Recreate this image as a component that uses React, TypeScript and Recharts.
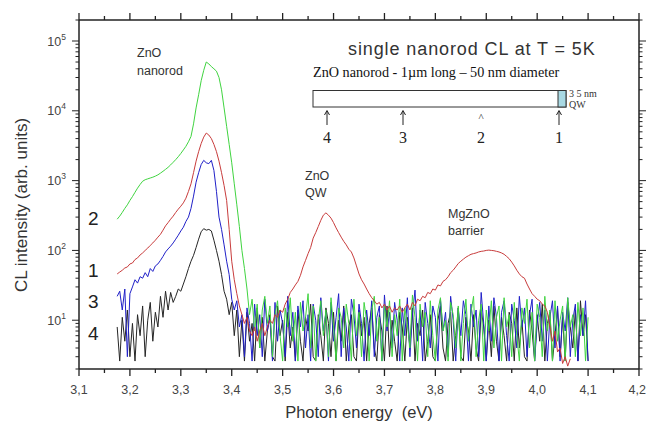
import React from 'react';
import { LineChart, Line, XAxis, YAxis } from 'recharts';

// photon energy grid (eV), 5 meV steps, shared by all four spectra
const energy = [
  3.175, 3.18, 3.185, 3.19, 3.195, 3.2, 3.205, 3.21, 3.215, 3.22,
  3.225, 3.23, 3.235, 3.24, 3.245, 3.25, 3.255, 3.26, 3.265, 3.27,
  3.275, 3.28, 3.285, 3.29, 3.295, 3.3, 3.305, 3.31, 3.315, 3.32,
  3.325, 3.33, 3.335, 3.34, 3.345, 3.35, 3.355, 3.36, 3.365, 3.37,
  3.375, 3.38, 3.385, 3.39, 3.395, 3.4, 3.405, 3.41, 3.415, 3.42,
  3.425, 3.43, 3.435, 3.44, 3.445, 3.45, 3.455, 3.46, 3.465, 3.47,
  3.475, 3.48, 3.485, 3.49, 3.495, 3.5, 3.505, 3.51, 3.515, 3.52,
  3.525, 3.53, 3.535, 3.54, 3.545, 3.55, 3.555, 3.56, 3.565, 3.57,
  3.575, 3.58, 3.585, 3.59, 3.595, 3.6, 3.605, 3.61, 3.615, 3.62,
  3.625, 3.63, 3.635, 3.64, 3.645, 3.65, 3.655, 3.66, 3.665, 3.67,
  3.675, 3.68, 3.685, 3.69, 3.695, 3.7, 3.705, 3.71, 3.715, 3.72,
  3.725, 3.73, 3.735, 3.74, 3.745, 3.75, 3.755, 3.76, 3.765, 3.77,
  3.775, 3.78, 3.785, 3.79, 3.795, 3.8, 3.805, 3.81, 3.815, 3.82,
  3.825, 3.83, 3.835, 3.84, 3.845, 3.85, 3.855, 3.86, 3.865, 3.87,
  3.875, 3.88, 3.885, 3.89, 3.895, 3.9, 3.905, 3.91, 3.915, 3.92,
  3.925, 3.93, 3.935, 3.94, 3.945, 3.95, 3.955, 3.96, 3.965, 3.97,
  3.975, 3.98, 3.985, 3.99, 3.995, 4.0, 4.005, 4.01, 4.015, 4.02,
  4.025, 4.03, 4.035, 4.04, 4.045, 4.05, 4.055, 4.06, 4.065, 4.07,
  4.075, 4.08, 4.085, 4.09, 4.095, 4.1,
];

// curve "2" (green)
const spectrum2 = [
  280, 310, 350, 400, 450, 520, 590, 680, 780, 880,
  980, 1030, 1060, 1090, 1120, 1160, 1210, 1280, 1360, 1450,
  1550, 1680, 1830, 2000, 2200, 2450, 2750, 3100, 3600, 4300,
  6500, 11000, 17000, 27000, 38000, 50000, 47000, 43000, 40000, 37000,
  30000, 20000, 11000, 6000, 3300, 1800, 900, 450, 220, 100,
  55, 28, 12, 20, 7, 17, 4, 14, 22, 9,
  16, 3, 12, 19, 6, 2.6, 15, 8, 21, 5,
  13, 2.6, 18, 7, 11, 24, 4, 16, 2.6, 10,
  19, 6, 14, 3, 21, 8, 2.6, 15, 11, 4,
  17, 9, 2.6, 20, 6, 13, 3, 18, 10, 2.6,
  14, 22, 5, 11, 2.6, 16, 8, 19, 3, 12,
  6, 20, 2.6, 15, 9, 4, 23, 11, 2.6, 17,
  8, 13, 3, 19, 6, 2.6, 14, 21, 7, 10,
  2.6, 18, 12, 4, 16, 2.6, 9, 20, 5, 13,
  22, 3, 10, 17, 2.6, 14, 7, 19, 4, 11,
  16, 2.6, 21, 8, 12, 3, 18, 6, 2.6, 15,
  9, 20, 4, 13, 2.6, 17, 11, 3, 22, 7,
  14, 2.6, 19, 5, 10, 16, 2.6, 21, 8, 12,
  3, 18, 6, 15, 2.6, 11,
];

// curve "1" (red) - rod, QW and MgZnO barrier emission
const spectrum1 = [
  46, 49, 52, 56, 58, 64, 66, 74, 78, 86,
  92, 100, 108, 118, 128, 140, 155, 170, 195, 225,
  250, 280, 310, 350, 390, 430, 480, 560, 700, 900,
  1300, 1900, 2600, 3400, 4200, 4800, 4500, 4000, 3300, 2600,
  1900, 1300, 850, 520, 200, 70, 38, 24, 16, 12,
  9, 11, 7, 6, 8, 5, 7, 9, 6, 8,
  10, 9, 12, 11, 14, 13, 17, 20, 25, 28,
  32, 36, 44, 58, 72, 90, 110, 150, 180, 220,
  270, 320, 345, 320, 290, 250, 210, 180, 155, 135,
  120, 104, 95, 78, 60, 46, 38, 33, 28, 24,
  21, 19, 17, 18, 15, 17, 14, 16, 13, 15,
  14, 16, 13, 15, 17, 14, 18, 16, 20, 19,
  22, 21, 25, 24, 28, 27, 32, 31, 36, 38,
  42, 48, 52, 58, 65, 70, 75, 80, 84, 88,
  90, 92, 95, 97, 98, 100, 101, 100, 99, 97,
  95, 92, 88, 82, 76, 68, 60, 52, 46, 42,
  40, 33, 28, 24, 22, 20, 19, 17, 16, 13,
  8, 5, 7, 3.5, 4, 2.4, 3, 2.2, 2.8, null,
  null, null, null, null, null, null,
];

// curve "3" (blue)
const spectrum3 = [
  22, 26, 14, 28, 3, 24, 30, 38, 34, 42,
  40, 48, 42, 55, 50, 60, 64, 72, 82, 95,
  105, 115, 128, 145, 165, 190, 215, 260, 300, 400,
  600, 950, 1300, 1700, 1950, 1800, 1750, 1950, 1400, 700,
  300, 200, 120, 70, 45, 20, 14, 19, 8, 12,
  3, 15, 9, 2.6, 17, 6, 12, 3, 20, 7,
  11, 2.6, 18, 5, 14, 9, 3, 22, 6, 13,
  2.6, 16, 8, 19, 4, 12, 2.6, 17, 10, 3,
  21, 7, 13, 2.6, 18, 5, 11, 24, 3, 15,
  8, 2.6, 20, 12, 4, 17, 9, 2.6, 14, 6,
  19, 3, 11, 16, 2.6, 23, 7, 13, 4, 18,
  10, 2.6, 15, 6, 21, 3, 12, 27, 5, 14,
  2.6, 18, 9, 4, 16, 11, 2.6, 20, 7, 13,
  3, 22, 10, 2.6, 15, 6, 19, 12, 2.6, 17,
  8, 14, 3, 25, 9, 2.6, 16, 5, 21, 11,
  2.6, 13, 19, 6, 2.6, 17, 10, 4, 22, 8,
  15, 3, 12, 20, 2.6, 9, 18, 5, 14, 2.6,
  11, 19, 4, 16, 2.6, 13, 7, 21, 3, 10,
  17, 2.6, 12, 6, 19, 2.6,
];

// curve "4" (black)
const spectrum4 = [
  8, 2.6, 11, 5, 14, 3, 9, 2.6, 12, 6,
  16, 3, 10, 18, 5, 13, 8, 22, 11, 26,
  14, 25, 18, 22, 28, 26, 33, 42, 55, 70,
  85, 110, 145, 185, 205, 195, 200, 190, 140, 100,
  70, 45, 26, 20, 12, 18, 6, 14, 3, 10,
  2.6, 13, 5, 9, 2.6, 15, 4, 11, 2.6, 7,
  12, 3, 2.6, 16, 6, 10, 2.6, 13, 4, 8,
  2.6, 14, 5, 2.6, 11, 7, 17, 3, 2.6, 12,
  6, 2.6, 15, 9, 3, 13, 2.6, 10, 5, 16,
  2.6, 8, 12, 3, 2.6, 14, 6, 11, 2.6, 9,
  15, 4, 2.6, 12, 7, 2.6, 16, 3, 10, 5,
  2.6, 13, 8, 2.6, 11, 4, 15, 2.6, 9, 6,
  14, 2.6, 5, 12, 3, 2.6, 10, 16, 4, 2.6,
  9, 13, 2.6, 6, 15, 3, 2.6, 11, 7, 2.6,
  12, 4, 2.6, 14, 8, 2.6, 10, 3, 16, 5,
  2.6, 11, 6, 2.6, 13, 9, 2.6, 15, 4, 10,
  3, 2.6, 14, 7, 2.6, 12, 5, 17, 2.6, 9,
  13, 2.6, 6, 15, 3, 11, 2.6, 18, 8, 4,
  14, 2.6, 19, 6, 12, 2.6,
];

const xTicks = [
  3.1, 3.15, 3.2, 3.25, 3.3, 3.35, 3.4, 3.45, 3.5, 3.55, 3.6, 3.65,
  3.7, 3.75, 3.8, 3.85, 3.9, 3.95, 4.0, 4.05, 4.1, 4.15, 4.2,
];
const yDecades = [1, 10, 100, 1000, 10000, 100000];
const yMantissas = [1, 2, 3, 4, 5, 6, 7, 8, 9];

const yTicks: number[] = [];
yDecades.forEach(d => yMantissas.forEach(m => {
  const v = d * m;
  if (v >= 2 && v <= 200000) yTicks.push(v);
}));

const data = energy.map((e, i) => ({
  e,
  s1: spectrum1[i],
  s2: spectrum2[i],
  s3: spectrum3[i],
  s4: spectrum4[i],
}));

const SANS = '"Liberation Sans", Arial, sans-serif';
const SERIF = '"Liberation Serif", "Times New Roman", serif';
const AXIS = '#222';

const isMajorX = (v: number) => Math.round(v * 100) % 10 === 0;
const isDecade = (v: number) => Math.abs(Math.log10(v) - Math.round(Math.log10(v))) < 1e-9;

const makeXTick = (side: 'bottom' | 'top') => (props: any) => {
  const { x, y, payload } = props;
  const v = payload.value as number;
  const major = isMajorX(v);
  const dir = side === 'bottom' ? 1 : -1;
  const last = v > 4.19;
  return (
    <g>
      <line x1={x} x2={x} y1={y} y2={y + dir * (major ? 7 : 4)} stroke={AXIS} strokeWidth={1.3} />
      {side === 'bottom' && major && (
        <text
          x={last ? x + 7 : x}
          y={y + 25}
          textAnchor={last ? 'end' : 'middle'}
          fontSize={12.5}
          fill="#444"
          fontFamily={SANS}
        >
          {v.toFixed(1).replace('.', ',')}
        </text>
      )}
    </g>
  );
};

const makeYTick = (side: 'left' | 'right') => (props: any) => {
  const { x, y, payload } = props;
  const v = payload.value as number;
  const major = isDecade(v);
  const dir = side === 'left' ? -1 : 1;
  return (
    <g>
      <line x1={x} x2={x + dir * (major ? 7 : 3.5)} y1={y} y2={y} stroke={AXIS} strokeWidth={1} />
      {side === 'left' && major && (
        <text x={x - 13} y={y + 4.5} textAnchor="end" fontSize={12.5} fill="#444" fontFamily={SANS}>
          10
          <tspan fontSize={8.5} dy={-6}>{Math.round(Math.log10(v))}</tspan>
        </text>
      )}
    </g>
  );
};

// marker arrows under the nanorod sketch
const Arrow = ({ x }: { x: number }) => (
  <g stroke="#222" strokeWidth={1} fill="none">
    <line x1={x} x2={x} y1={111} y2={125} />
    <path d={`M${x - 2.5} ${115} L${x} ${110.5} L${x + 2.5} ${115}`} />
  </g>
);

export default function App() {
  return (
    <div style={{ position: 'absolute', left: 0, top: 0, width: 646, height: 426, background: '#fff' }}>
      <LineChart width={646} height={426} data={data} margin={{ top: 19, right: 0, bottom: 0, left: 0 }}>
        <XAxis
          dataKey="e"
          type="number"
          domain={[3.1, 4.2]}
          ticks={xTicks}
          interval={0}
          height={57}
          tickSize={0}
          tickMargin={0}
          tickLine={false}
          axisLine={{ stroke: AXIS, strokeWidth: 1.5 }}
          tick={makeXTick('bottom')}
          allowDataOverflow
        />
        <XAxis
          xAxisId="top"
          orientation="top"
          dataKey="e"
          type="number"
          domain={[3.1, 4.2]}
          ticks={xTicks}
          interval={0}
          height={1}
          tickSize={0}
          tickMargin={0}
          tickLine={false}
          axisLine={{ stroke: AXIS, strokeWidth: 1.5 }}
          tick={makeXTick('top')}
          allowDataOverflow
        />
        <YAxis
          type="number"
          scale="log"
          domain={[2, 200000]}
          ticks={yTicks}
          interval={0}
          width={79}
          tickSize={0}
          tickMargin={0}
          tickLine={false}
          axisLine={{ stroke: AXIS, strokeWidth: 1.5 }}
          tick={makeYTick('left')}
          allowDataOverflow
        />
        <YAxis
          yAxisId="right"
          orientation="right"
          type="number"
          scale="log"
          domain={[2, 200000]}
          ticks={yTicks}
          interval={0}
          width={7}
          tickSize={0}
          tickMargin={0}
          tickLine={false}
          axisLine={{ stroke: AXIS, strokeWidth: 1.5 }}
          tick={makeYTick('right')}
          allowDataOverflow
        />
        <Line dataKey="s4" stroke="#262626" strokeWidth={1} dot={false} type="linear" isAnimationActive={false} />
        <Line dataKey="s3" stroke="#2020c8" strokeWidth={1} dot={false} type="linear" isAnimationActive={false} />
        <Line dataKey="s2" stroke="#40d440" strokeWidth={1} dot={false} type="linear" isAnimationActive={false} />
        <Line dataKey="s1" stroke="#c83c3c" strokeWidth={1} dot={false} type="linear" isAnimationActive={false} />
        {/* invisible copy so the mirrored top/right axes get drawn */}
        <Line
          xAxisId="top"
          yAxisId="right"
          dataKey="s1"
          stroke="none"
          dot={false}
          activeDot={false}
          legendType="none"
          isAnimationActive={false}
        />
      </LineChart>

      <svg width={646} height={426} style={{ position: 'absolute', left: 0, top: 0, pointerEvents: 'none' }}>
        <text x={27} y={205} transform="rotate(-90 27 205)" textAnchor="middle" fontSize={17} fill="#333" fontFamily={SANS}>
          CL intensity  (arb. units)
        </text>
        <text x={359} y={418} textAnchor="middle" fontSize={16.5} fill="#333" fontFamily={SANS} xmlSpace="preserve">
          Photon energy  (eV)
        </text>

        <g fontFamily={SANS} fontSize={19} fill="#222">
          <text x={88} y={225}>2</text>
          <text x={88} y={277}>1</text>
          <text x={88} y={308}>3</text>
          <text x={88} y={340}>4</text>
        </g>

        <g fontFamily={SANS} fontSize={12.5} fill="#333">
          <text x={137} y={57}>ZnO</text>
          <text x={137} y={75}>nanorod</text>
          <text x={305} y={180}>ZnO</text>
          <text x={305} y={197}>QW</text>
          <text x={448} y={218}>MgZnO</text>
          <text x={448} y={235}>barrier</text>
        </g>

        <text x={348} y={55} fontSize={18} letterSpacing={0.9} fill="#333" fontFamily={SANS}>
          single nanorod CL at T = 5K
        </text>
        <text x={313} y={77} fontSize={14.2} fill="#111" fontFamily={SERIF}>
          ZnO nanorod - 1µm long – 50 nm diameter
        </text>
        <rect x={313} y={90.5} width={253} height={16.5} fill="#fff" stroke="#333" strokeWidth={1} />
        <rect x={558} y={90.5} width={8} height={16.5} fill="#a9d9e3" stroke="#333" strokeWidth={1} />
        <g fontFamily={SERIF} fontSize={10} fill="#333">
          <text x={569} y={97}>3 5 nm</text>
          <text x={569} y={108}>QW</text>
        </g>
        <Arrow x={327} />
        <Arrow x={403} />
        <Arrow x={559} />
        <g fontFamily={SERIF} fontSize={16} fill="#222" textAnchor="middle">
          <text x={481} y={121} fontSize={11}>^</text>
          <text x={327} y={143}>4</text>
          <text x={403} y={143}>3</text>
          <text x={481} y={143}>2</text>
          <text x={559} y={143}>1</text>
        </g>
      </svg>
    </div>
  );
}
